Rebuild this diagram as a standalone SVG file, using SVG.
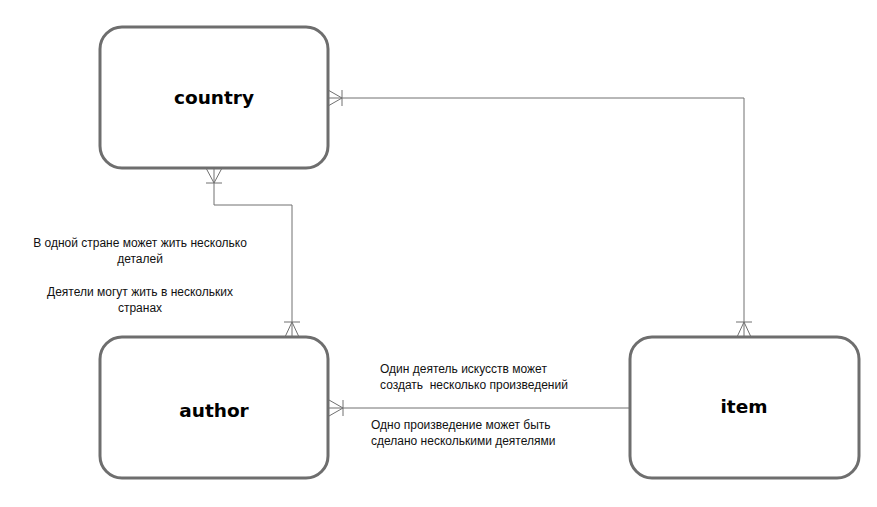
<svg xmlns="http://www.w3.org/2000/svg" width="877" height="507" viewBox="0 0 877 507">
<style>
.box{fill:#fff;stroke:#6e6e6e;stroke-width:3}
.title{font-family:"DejaVu Sans",sans-serif;font-weight:bold;font-size:18.5px;fill:#000;text-anchor:middle}
.note{font-family:"Liberation Sans",Arial,sans-serif;font-size:12px;fill:#111}
.c{text-anchor:middle}
.ln{fill:none;stroke:#707070;stroke-width:1}
</style>
<rect width="877" height="507" fill="#fff"/>
<g id="connectors" class="ln">
<polyline points="214,168 214,205 292,205 292,337"/>
<path d="M206,183 H222 M214,183 L206,168 M214,183 L222,168"/>
<path d="M284,322 H300 M292,322 L285,337 M292,322 L299,337"/>
<polyline points="328,98 744,98 744,337"/>
<path d="M342,90 V106 M342,98 L328,90 M342,98 L328,106"/>
<path d="M736,322 H752 M744,322 L737,337 M744,322 L751,337"/>
<line x1="328" y1="408" x2="630" y2="408"/>
<path d="M343,400 V416 M343,408 L329,400 M343,408 L329,416"/>
</g>
<g id="country">
<rect class="box" x="100" y="27" width="228" height="141" rx="22"/>
<text class="title" x="214" y="104">country</text>
</g>
<g id="author">
<rect class="box" x="100" y="337" width="228" height="141" rx="22"/>
<text class="title" x="214" y="417">author</text>
</g>
<g id="item">
<rect class="box" x="630" y="337" width="229" height="141" rx="22"/>
<text class="title" x="744" y="413">item</text>
</g>
<g id="labels" class="note">
<text class="c" x="140" y="247">В одной стране может жить несколько</text>
<text class="c" x="140" y="263">деталей</text>
<text class="c" x="140" y="296">Деятели могут жить в нескольких</text>
<text class="c" x="140" y="312">странах</text>
<text x="380" y="373">Один деятель искусств может</text>
<text x="380" y="389" xml:space="preserve">создать  несколько произведений</text>
<text x="371" y="429">Одно произведение может быть</text>
<text x="371" y="445">сделано несколькими деятелями</text>
</g>
</svg>
